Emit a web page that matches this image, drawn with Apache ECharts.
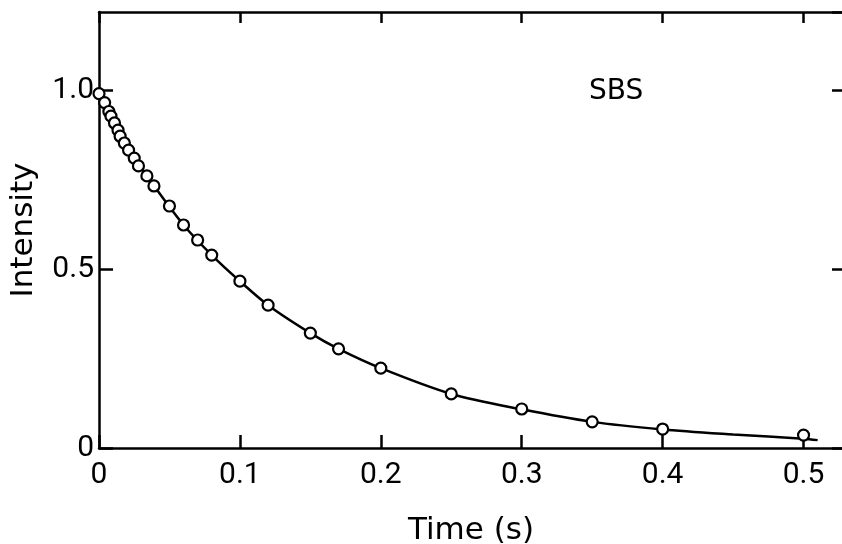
<!DOCTYPE html>
<html>
<head>
<meta charset="utf-8">
<style>
  html, body { margin: 0; padding: 0; background: #fff; }
  #main { width: 842px; height: 544px; }
</style>
</head>
<body>
<div id="main"></div>
<script src="https://cdn.jsdelivr.net/npm/echarts@6/dist/echarts.min.js"></script>
<script>
  // 测量点 (时间 s, 强度)
  var timeVals = [0, 0.004, 0.007, 0.0085, 0.011, 0.0135, 0.015, 0.018, 0.021, 0.025, 0.028, 0.034, 0.039,
                  0.05, 0.06, 0.07, 0.08, 0.1, 0.12, 0.15, 0.17, 0.2, 0.25, 0.3, 0.35, 0.4, 0.5];
  var intensityVals = [0.99, 0.965, 0.94, 0.927, 0.908, 0.888, 0.871, 0.852, 0.832, 0.81, 0.788, 0.76, 0.732,
                       0.676, 0.623, 0.581, 0.539, 0.466, 0.399, 0.321, 0.277, 0.223, 0.151, 0.109, 0.073, 0.053, 0.036];
  // 拟合曲线
  var fitT = [0, 0.01, 0.02, 0.04, 0.06, 0.08, 0.1, 0.12, 0.15, 0.17, 0.2, 0.25, 0.3, 0.35, 0.4, 0.45, 0.5, 0.51];
  var fitI = [1.0, 0.915, 0.84, 0.727, 0.623, 0.539, 0.466, 0.399, 0.321, 0.277, 0.223, 0.151, 0.108, 0.073, 0.052, 0.038, 0.026, 0.022];
  var xTicks = [0, 0.1, 0.2, 0.3, 0.4, 0.5];
  var yTicks = [0, 0.5, 1.0];
  var yTickText = ['0', '0.5', '1.0'];

  var myChart = echarts.init(document.getElementById('main'));

  function near(v, list) {
    for (var i = 0; i < list.length; i++) {
      if (Math.abs(v - list[i]) < 1e-6) return i;
    }
    return -1;
  }

  var points = timeVals.map(function (t, i) { return [t, intensityVals[i]]; });
  var fitLine = fitT.map(function (t, i) { return [t, fitI[i]]; });

  var labelFont = { color: '#000', fontSize: 30, fontFamily: 'Roboto' };
  var axisLine = { show: true, onZero: false, lineStyle: { color: '#000', width: 2.5 } };
  var tickStyle = { color: '#000', width: 2.5 };

  option = {
    backgroundColor: '#fff',
    animation: false,
    grid: { left: 99, right: -1, top: 12, bottom: 96, containLabel: false, outerBoundsMode: 'none' },
    xAxis: [
      {
        type: 'value', min: 0, max: 0.528, interval: 0.1, position: 'bottom',
        name: 'Time (s)', nameLocation: 'middle', nameGap: 67,
        nameTextStyle: { color: '#000', fontSize: 31, fontFamily: 'DejaVu Sans' },
        axisLine: axisLine,
        axisTick: { show: true, inside: true, length: 13, lineStyle: tickStyle },
        splitLine: { show: false },
        axisLabel: Object.assign({
          margin: 12, showMaxLabel: false,
          formatter: function (v) {
            var k = near(v, xTicks);
            if (k < 0) return '';
            return k === 0 ? '0' : xTicks[k].toFixed(1);
          }
        }, labelFont)
      },
      {
        type: 'value', min: 0, max: 0.528, interval: 0.1, position: 'top',
        axisLine: axisLine,
        axisTick: { show: true, inside: true, length: 11, lineStyle: tickStyle },
        axisLabel: { show: false },
        splitLine: { show: false }
      }
    ],
    yAxis: [
      {
        type: 'value', min: 0, max: 1.218, interval: 0.5, position: 'left',
        name: 'Intensity', nameLocation: 'middle', nameGap: 60,
        nameTextStyle: { color: '#000', fontSize: 31, fontFamily: 'DejaVu Sans' },
        axisLine: axisLine,
        axisTick: { show: true, inside: true, length: 14, lineStyle: tickStyle },
        splitLine: { show: false },
        axisLabel: Object.assign({
          margin: 5, showMaxLabel: false, padding: [6, 0, 0, 0],
          formatter: function (v) {
            var k = near(v, yTicks);
            return k < 0 ? '' : yTickText[k];
          }
        }, labelFont)
      },
      {
        type: 'value', min: 0, max: 1.218, interval: 0.5, position: 'right',
        axisLine: axisLine,
        axisTick: { show: true, inside: true, length: 11, lineStyle: tickStyle },
        axisLabel: { show: false },
        splitLine: { show: false }
      }
    ],
    graphic: [
      {
        type: 'text', left: 589, top: 78,
        style: { text: 'SBS', fill: '#000', fontSize: 28, fontFamily: 'DejaVu Sans' }
      }
    ],
    series: [
      {
        name: 'fit', type: 'line', data: fitLine, smooth: 0.3,
        showSymbol: false, symbol: 'none',
        lineStyle: { color: '#000', width: 2.5 }, z: 2
      },
      {
        name: 'SBS', type: 'scatter', data: points,
        symbol: 'circle', symbolSize: 11,
        itemStyle: { color: '#fff', borderColor: '#000', borderWidth: 2.2, opacity: 1 }, z: 3
      }
    ]
  };
  myChart.setOption(option);
</script>
</body>
</html>
